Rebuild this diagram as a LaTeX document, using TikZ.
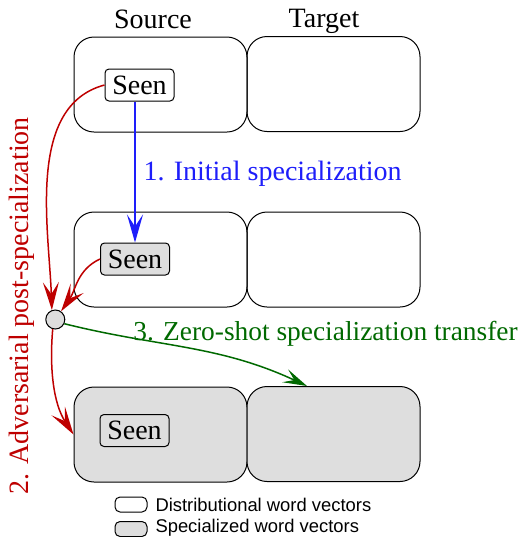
\documentclass[tikz,border=0pt]{standalone}
\usepackage{fontspec}
\setmainfont{Liberation Serif}
\setsansfont{Liberation Sans}
\usetikzlibrary{arrows.meta}

\definecolor{flowblue}{RGB}{30,30,250}
\definecolor{flowred}{RGB}{190,0,0}
\definecolor{flowgreen}{RGB}{0,105,0}
\definecolor{specgray}{RGB}{222,222,222}

\tikzset{
    region/.style={draw,rounded corners=10pt,minimum width=86.5pt,minimum height=47.5pt,inner sep=0pt},
    wordset/.style={draw,rounded corners=2pt,minimum width=34.5pt,minimum height=16pt,inner sep=0pt},
    keybox/.style={draw,rounded corners=2.5pt,minimum width=16pt,minimum height=7.5pt,inner sep=0pt},
    special/.style={fill=specgray},
    bighead/.style={-{Stealth[length=14pt,width=8pt,inset=6pt]},line width=0.75pt},
    steplabel/.style={anchor=base west,inner sep=0pt},
}

\begin{document}
\begin{tikzpicture}[x=0.5pt,y=-0.5pt,font=\fontsize{14}{16}\selectfont,line width=0.5pt]
    \useasboundingbox (0,0) rectangle (526,537);

    % column titles
    \node[anchor=base] (srctitle) at (153,28) {Source};
    \node[anchor=base] (tgttitle) at (324,27) {Target};

    % three stages, source and target spaces
    \node[region] (srcA) at (160.5,84.5) {};
    \node[region] (tgtA) at (333.5,84) {};
    \node[region] (srcB) at (160.5,259.5) {};
    \node[region] (tgtB) at (333.5,259.5) {};
    \node[region,special] (srcC) at (160.5,434.5) {};
    \node[region,special] (tgtC) at (333.5,434) {};

    \node[wordset,fill=white] (seenA) at (139.5,85) {Seen};
    \node[wordset,special] (seenB) at (135,259) {Seen};
    \node[wordset,special] (seenC) at (134.5,430.5) {Seen};

    \node[draw,circle,special,minimum size=9.5pt,inner sep=0pt] (dot) at (55.3,319.5) {};
    \coordinate (landing) at (307,386);

    % 1. initial specialization
    \draw[bighead,flowblue] (seenB.north |- seenA.south) -- (seenB.north);
    \node[steplabel,text=flowblue] (initlabel) at (143,180) {1. Initial specialization};

    % 2. adversarial post-specialization
    \draw[bighead,flowred] (seenA.west) to[out=195,in=92,looseness=0.9] (dot.110);
    \draw[bighead,flowred] (seenB.west) to[out=205,in=55] (dot.55);
    \draw[bighead,flowred] (dot.255) to[out=265,in=123,looseness=0.9] (srcC.west);
    \node[rotate=90,text=flowred] (advlabel) at (22,306) {2. Adversarial post-specialization};

    % 3. zero-shot transfer
    \draw[-{Stealth[length=12pt,width=7pt,inset=5pt]},line width=0.75pt,flowgreen] (dot.-25) to[out=-14,in=155] (landing);
    \node[steplabel,text=flowgreen,font=\fontsize{13.7}{16}\selectfont] (zslabel) at (133,340) {3. Zero-shot specialization transfer};

    % legend
    \node[keybox,fill=white] (keydist) at (131,504.5) {};
    \node[keybox,special] (keyspec) at (131,529) {};
    \node[anchor=west,font=\fontsize{9.2}{11}\sffamily,inner sep=0pt] (distlabel) at (155,505) {Distributional word vectors};
    \node[anchor=west,font=\fontsize{9.2}{11}\sffamily,inner sep=0pt] (speclabel) at (155,528) {Specialized word vectors};
\end{tikzpicture}
\end{document}
